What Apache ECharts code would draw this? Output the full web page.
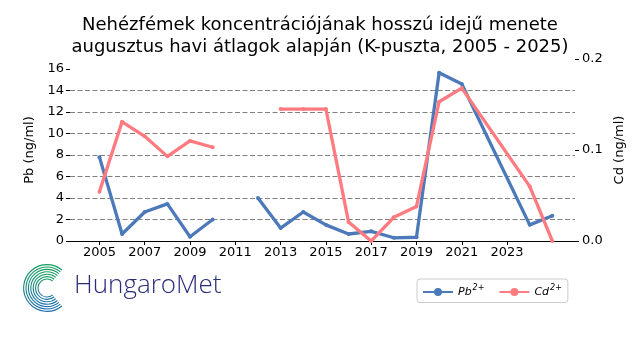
<!DOCTYPE html>
<html><head><meta charset="utf-8">
<script src="https://cdn.jsdelivr.net/npm/echarts@6/dist/echarts.min.js"></script>
<style>html,body{margin:0;padding:0;background:#fff}#c{width:640px;height:360px}</style>
</head><body><div id="c"></div>
<script>
const titleText = 'Nehézfémek koncentrációjának hosszú idejű menete\naugusztus havi átlagok alapján (K-puszta, 2005 - 2025)';
const years = [2005,2006,2007,2008,2009,2010,2011,2012,2013,2014,2015,2016,2017,2018,2019,2020,2021,2024,2025];
const pbValues = [7.8,0.65,2.7,3.45,0.4,2.0,null,4.0,1.2,2.7,1.5,0.65,0.9,0.3,0.35,15.65,14.6,1.5,2.35];
const cdValues = [0.054,0.131,0.115,0.093,0.110,0.103,null,null,0.145,0.145,0.145,0.021,0.0,0.026,0.038,0.153,0.168,0.060,0.0];
const xTickLabels = [2005,2007,2009,2011,2013,2015,2017,2019,2021,2023];
const pbTicks = [0,2,4,6,8,10,12,14,16];
const cdTicks = [0,0.1,0.2];
const seriesNames = ['Pb', 'Cd'];

const pbColor = '#4b79ba';
const cdColor = '#ff7b80';
const font = 'DejaVu Sans';

const chart = echarts.init(document.getElementById('c'), null, {renderer: 'canvas'});

function pairs(vals){ return years.map((y,i)=>[y, vals[i]]); }

const arcs = [];
for (let i = 0; i < 7; i++) {
  const r = 9 + i * 2.4;
  arcs.push({
    type: 'arc', silent: true,
    shape: {cx: 47, cy: 288, r: r, startAngle: Math.PI * 0.28, endAngle: Math.PI * 1.72, clockwise: true},
    style: {fill: null, lineWidth: 1.1,
      stroke: new echarts.graphic.LinearGradient(0, 0, 0, 1, [{offset: 0, color: '#16a05a'}, {offset: 1, color: '#1d6db4'}])}
  });
}

chart.setOption({
  animation: false,
  backgroundColor: '#fff',
  textStyle: {fontFamily: font},
  title: {
    text: titleText, left: 'center', top: 9,
    textStyle: {fontFamily: font, fontSize: 18, fontWeight: 'normal', color: '#000', lineHeight: 22}
  },
  grid: {left: 70, right: 65, top: 59, bottom: 119, containLabel: false},
  legend: {
    left: 417, top: 279, orient: 'horizontal',
    itemWidth: 30, itemHeight: 10, itemGap: 14,
    padding: [5, 6, 5, 5],
    borderColor: '#cccccc', borderWidth: 1, borderRadius: 3,
    data: seriesNames,
    formatter: n => '{b|' + n + '}{s|2+}',
    textStyle: {
      fontFamily: font, color: '#000',
      rich: {
        b: {fontFamily: font, fontSize: 11, fontStyle: 'italic', color: '#000'},
        s: {fontFamily: font, fontSize: 8, fontStyle: 'italic', color: '#000', verticalAlign: 'bottom', padding: [0,0,8,1]}
      }
    }
  },
  xAxis: {
    type: 'value', min: 2003.7, max: 2026,
    axisLine: {show: true, lineStyle: {color: '#000', width: 1}},
    axisTick: {show: true, length: 4, lineStyle: {color: '#000'}, customValues: xTickLabels},
    axisLabel: {show: true, color: '#000', fontSize: 13, fontFamily: font, margin: 5, customValues: xTickLabels, formatter: v => String(v)},
    splitLine: {show: false}
  },
  yAxis: [
    {
      type: 'value', min: 0, max: 16.93, interval: 2,
      name: 'Pb (ng/ml)', nameLocation: 'middle', nameGap: 22, nameRotate: 90,
      nameTextStyle: {fontFamily: font, fontSize: 13, color: '#000'},
      axisLine: {show: false},
      axisTick: {show: true, length: 4, lineStyle: {color: '#000'}, customValues: pbTicks},
      axisLabel: {color: '#000', fontSize: 13, fontFamily: font, margin: 6, customValues: pbTicks},
      splitLine: {show: true, showMinLine: false, showMaxLine: false, lineStyle: {color: '#808080', type: [5, 2.5], width: 1}}
    },
    {
      type: 'value', min: 0, max: 0.2, interval: 0.1, position: 'right',
      name: 'Cd (ng/ml)', nameLocation: 'middle', nameGap: 30, nameRotate: 90,
      nameTextStyle: {fontFamily: font, fontSize: 13, color: '#000'},
      axisLine: {show: false},
      axisTick: {show: true, length: 4, lineStyle: {color: '#000'}},
      axisLabel: {color: '#000', fontSize: 13, fontFamily: font, margin: 7, formatter: v => v.toFixed(1)},
      splitLine: {show: false}
    }
  ],
  series: [
    {
      name: seriesNames[0], type: 'line', yAxisIndex: 0, data: pairs(pbValues),
      connectNulls: false, symbol: 'circle', symbolSize: 4, showSymbol: true,
      itemStyle: {color: pbColor}, lineStyle: {color: pbColor, width: 3.3, join: 'round'}, z: 3
    },
    {
      name: seriesNames[1], type: 'line', yAxisIndex: 1, data: pairs(cdValues),
      connectNulls: false, symbol: 'circle', symbolSize: 4, showSymbol: true,
      itemStyle: {color: cdColor}, lineStyle: {color: cdColor, width: 3.3, join: 'round'}, z: 4
    }
  ],
  graphic: arcs.concat([
    {type: 'text', left: 74, top: 273, silent: true,
     style: {text: 'HungaroMet', fill: '#2b2d7c', font: '300 26px "Open Sans"'}}
  ])
});
</script></body></html>
